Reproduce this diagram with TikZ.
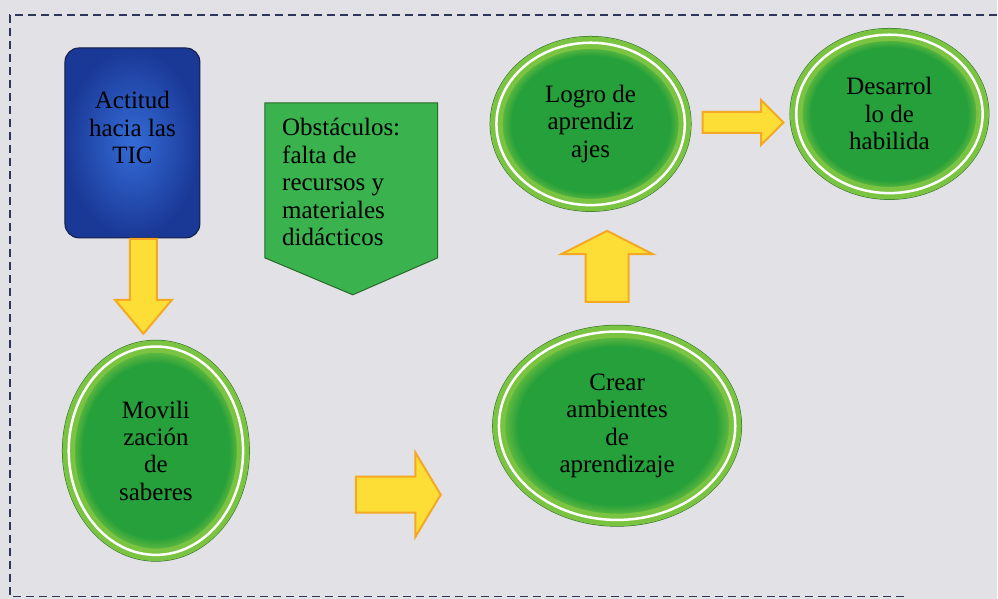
\documentclass[tikz,border=0pt]{standalone}
\usepackage{fontspec}
\setmainfont{Liberation Serif}
\usetikzlibrary{shapes.geometric,shapes.arrows}

\definecolor{fondo}{RGB}{226,225,229}
\definecolor{marcoazul}{RGB}{45,55,90}
\definecolor{verde}{RGB}{38,160,58}
\definecolor{verdeclaro}{RGB}{122,196,66}
\definecolor{verdeosc}{RGB}{40,105,40}
\definecolor{verdeobs}{RGB}{58,178,78}
\definecolor{azul}{RGB}{26,56,150}
\definecolor{azulclaro}{RGB}{52,108,215}
\definecolor{azuloscuro}{RGB}{20,30,70}
\definecolor{amarillo}{RGB}{252,222,55}
\definecolor{naranja}{RGB}{245,168,35}

\pgfdeclareradialshading{anillo}{\pgfpoint{0bp}{0bp}}{color(0bp)=(verde); color(21bp)=(verde); color(25bp)=(verdeclaro); color(50bp)=(verdeclaro)}

\tikzset{every picture/.style={line width=0.75pt}}
\tikzset{
  texto/.style={font=\fontsize{25}{27.5}\selectfont, align=center, inner sep=0pt, text=black},
  meta/.style={texto, ellipse, shade, shading=anillo, draw=verdeclaro, line width=5pt,
    double=white, double distance=2.5pt, preaction={draw=verdeosc, line width=13.5pt}},
  caja/.style={rectangle, rounded corners=14pt, draw=azuloscuro, line width=1pt,
    inner color=azulclaro, outer color=azul, minimum width=135pt, minimum height=190pt},
  flecha/.style={single arrow, draw=naranja, fill=amarillo, line width=2pt, inner sep=0pt,
    single arrow head indent=0pt, anchor=tail},
  marco/.style={draw=marcoazul, line width=1.3pt, dash pattern=on 8pt off 5pt}
}

\begin{document}
\begin{tikzpicture}[x=1pt,y=1pt,yscale=-1,xscale=1]
%Fondo
\fill[fondo] (0,0) rectangle (998,599);
%Straight Lines
\draw[marco] (998,15) -- (10,15) -- (10,597) -- (905,597);

%Shape: Rounded Rect
\node[caja] (tic) at (132.5,143) {};
% Text Node
\node[texto] (tictxt) at (132.5,128) {Actitud\\hacia las\\TIC};

%Shape: Pentagon
\draw[fill=verdeobs, draw=verdeosc, line width=1pt] (265,103) -- (438,103) -- (438,258) -- (353,295) -- (265,258) -- cycle;
% Text Node
\node[texto, align=left, anchor=west] (obs) at (282,182.5) {Obstáculos:\\falta de\\recursos y\\materiales\\didácticos};

%Shape: Ellipse
\node[meta, minimum width=174.5pt, minimum height=208.5pt] (movil) at (156,451) {Movili\\zación\\de\\saberes};
%Shape: Ellipse
\node[meta, minimum width=236.5pt, minimum height=188.5pt] (crear) at (617.5,426) {Crear\\ambientes\\de\\aprendizaje};
%Shape: Ellipse
\node[meta, minimum width=188.5pt, minimum height=162.5pt] (logro) at (591,124) {Logro de\\aprendiz\\ajes};
%Shape: Ellipse
\node[meta, minimum width=186.5pt, minimum height=158.5pt] (desa) at (890,114) {Desarrol\\lo de\\habilida};

%Shape: Arrows
\node[flecha, shape border rotate=270, minimum height=95pt, inner xsep=12.5pt,
  single arrow head extend=15pt, single arrow tip angle=80] (f1) at (143.5,238) {};
\node[flecha, minimum height=85pt, inner ysep=17pt,
  single arrow head extend=24pt, single arrow tip angle=118] (f2) at (355,495) {};
\node[flecha, shape border rotate=90, minimum height=71pt, inner xsep=20.5pt,
  single arrow head extend=24pt, single arrow tip angle=126] (f3) at (607.5,303) {};
\node[flecha, minimum height=81pt, inner ysep=9.5pt,
  single arrow head extend=12pt, single arrow tip angle=90] (f4) at (702,122.5) {};

\end{tikzpicture}
\end{document}
